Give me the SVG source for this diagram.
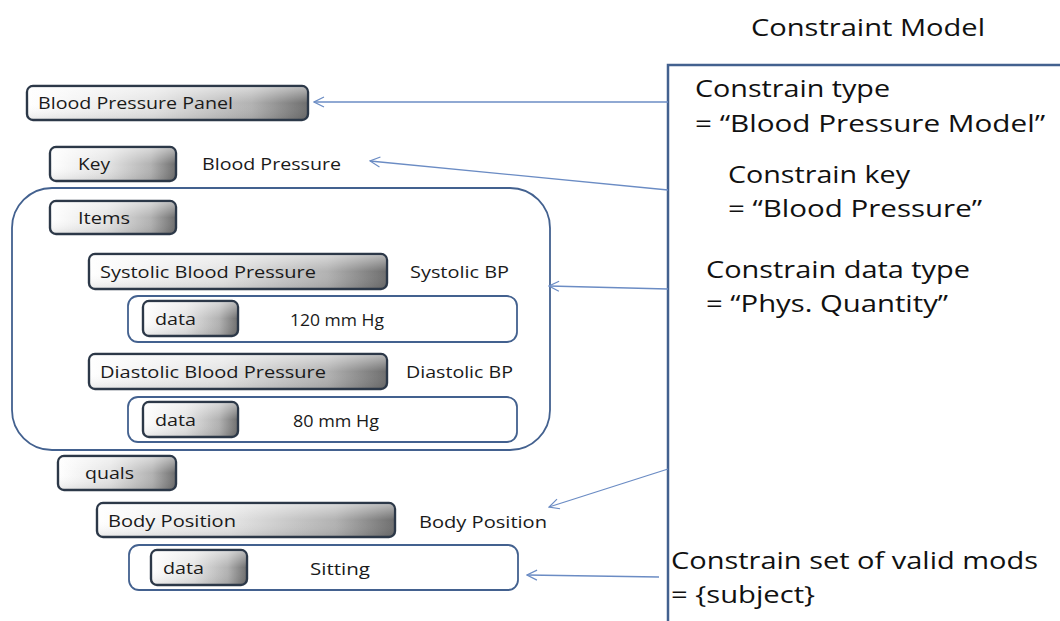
<svg xmlns="http://www.w3.org/2000/svg" width="1060" height="621" viewBox="0 0 1060 621">
<defs>
<linearGradient id="btn" x1="0" y1="0" x2="1" y2="0">
<stop offset="0" stop-color="#ffffff"/>
<stop offset="0.45" stop-color="#e4e4e4"/>
<stop offset="0.8" stop-color="#b2b2b2"/>
<stop offset="1" stop-color="#6e6e6e"/>
</linearGradient>
<linearGradient id="shine" x1="0" y1="0" x2="0" y2="1">
<stop offset="0" stop-color="#ffffff" stop-opacity="0.5"/>
<stop offset="0.5" stop-color="#ffffff" stop-opacity="0"/>
<stop offset="1" stop-color="#000000" stop-opacity="0.08"/>
</linearGradient>
<marker id="ah" viewBox="0 0 12 12" refX="11" refY="6" markerWidth="12" markerHeight="12" markerUnits="userSpaceOnUse" orient="auto">
<path d="M1,1 L11,6 L1,11" fill="none" stroke="#6b8cc4" stroke-width="1.2"/>
</marker>
</defs>
<style>
.btn{fill:url(#btn);stroke:#2c3848;stroke-width:2.4}
.sh{fill:url(#shine);stroke:none}
.box{fill:none;stroke:#43618f;stroke-width:1.8}
.lbl{font-family:"Open Sans","Liberation Sans",sans-serif;font-size:16px;fill:#1a1a1a}
.big{font-family:"Open Sans","Liberation Sans",sans-serif;font-size:23px;fill:#111}
.con{fill:none;stroke:#6b8cc4;stroke-width:1.3;marker-end:url(#ah)}
</style>
<rect width="1060" height="621" fill="#ffffff"/>

<text class="big" x="751" y="36" font-size="21" textLength="234" lengthAdjust="spacingAndGlyphs">Constraint Model</text>

<g id="constraint-model">
<path d="M668,621 L668,65 L1060,65" fill="none" stroke="#43618f" stroke-width="2.5"/>
<text class="big" x="695" y="97" textLength="195" lengthAdjust="spacingAndGlyphs">Constrain type</text>
<text class="big" x="695" y="132" textLength="350" lengthAdjust="spacingAndGlyphs">= “Blood Pressure Model”</text>
<text class="big" x="728" y="183" textLength="182" lengthAdjust="spacingAndGlyphs">Constrain key</text>
<text class="big" x="728" y="217" textLength="254" lengthAdjust="spacingAndGlyphs">= “Blood Pressure”</text>
<text class="big" x="706" y="278" textLength="264" lengthAdjust="spacingAndGlyphs">Constrain data type</text>
<text class="big" x="706" y="312" textLength="242" lengthAdjust="spacingAndGlyphs">= “Phys. Quantity”</text>
<text class="big" x="671" y="569" textLength="367" lengthAdjust="spacingAndGlyphs">Constrain set of valid mods</text>
<text class="big" x="671" y="603" textLength="144" lengthAdjust="spacingAndGlyphs">= {subject}</text>
</g>

<g id="panel">
<rect class="btn" x="27" y="86" width="281" height="34" rx="6"/>
<rect class="sh" x="28" y="87" width="279" height="32" rx="5"/>
<text class="lbl" x="38" y="109" textLength="195" lengthAdjust="spacingAndGlyphs">Blood Pressure Panel</text>
</g>

<g id="key">
<rect class="btn" x="50" y="147" width="126" height="34" rx="6"/>
<rect class="sh" x="51" y="148" width="124" height="32" rx="5"/>
<text class="lbl" x="78" y="170" textLength="32" lengthAdjust="spacingAndGlyphs">Key</text>
<text class="lbl" x="202" y="170" textLength="139" lengthAdjust="spacingAndGlyphs">Blood Pressure</text>
</g>

<g id="items-container">
<rect class="box" x="12" y="188" width="538" height="262" rx="40"/>
</g>

<g id="items">
<rect class="btn" x="50" y="201" width="126" height="33" rx="6"/>
<rect class="sh" x="51" y="202" width="124" height="31" rx="5"/>
<text class="lbl" x="78" y="224" textLength="52" lengthAdjust="spacingAndGlyphs">Items</text>
</g>

<g id="systolic">
<rect class="btn" x="89" y="254" width="298" height="35" rx="6"/>
<rect class="sh" x="90" y="255" width="296" height="33" rx="5"/>
<text class="lbl" x="100" y="278" textLength="216" lengthAdjust="spacingAndGlyphs">Systolic Blood Pressure</text>
<text class="lbl" x="410" y="278" textLength="99" lengthAdjust="spacingAndGlyphs">Systolic BP</text>
</g>

<g id="systolic-data">
<rect class="box" x="128" y="296" width="389" height="46" rx="10"/>
<rect class="btn" x="143" y="301" width="95" height="35" rx="6"/>
<rect class="sh" x="144" y="302" width="93" height="33" rx="5"/>
<text class="lbl" x="155" y="325" textLength="41" lengthAdjust="spacingAndGlyphs">data</text>
<text class="lbl" x="290" y="326" textLength="94" lengthAdjust="spacingAndGlyphs">120 mm Hg</text>
</g>

<g id="diastolic">
<rect class="btn" x="89" y="354" width="298" height="35" rx="6"/>
<rect class="sh" x="90" y="355" width="296" height="33" rx="5"/>
<text class="lbl" x="100" y="378" textLength="226" lengthAdjust="spacingAndGlyphs">Diastolic Blood Pressure</text>
<text class="lbl" x="406" y="378" textLength="107" lengthAdjust="spacingAndGlyphs">Diastolic BP</text>
</g>

<g id="diastolic-data">
<rect class="box" x="128" y="397" width="389" height="45" rx="10"/>
<rect class="btn" x="143" y="402" width="95" height="35" rx="6"/>
<rect class="sh" x="144" y="403" width="93" height="33" rx="5"/>
<text class="lbl" x="155" y="426" textLength="41" lengthAdjust="spacingAndGlyphs">data</text>
<text class="lbl" x="293" y="427" textLength="86" lengthAdjust="spacingAndGlyphs">80 mm Hg</text>
</g>

<g id="quals">
<rect class="btn" x="58" y="456" width="118" height="34" rx="6"/>
<rect class="sh" x="59" y="457" width="116" height="32" rx="5"/>
<text class="lbl" x="85" y="479" textLength="49" lengthAdjust="spacingAndGlyphs">quals</text>
</g>

<g id="body-position">
<rect class="btn" x="97" y="503" width="298" height="34" rx="6"/>
<rect class="sh" x="98" y="504" width="296" height="32" rx="5"/>
<text class="lbl" x="108" y="527" textLength="128" lengthAdjust="spacingAndGlyphs">Body Position</text>
<text class="lbl" x="419" y="528" textLength="128" lengthAdjust="spacingAndGlyphs">Body Position</text>
</g>

<g id="body-position-data">
<rect class="box" x="129" y="545" width="389" height="45" rx="10"/>
<rect class="btn" x="151" y="550" width="96" height="35" rx="6"/>
<rect class="sh" x="152" y="551" width="94" height="33" rx="5"/>
<text class="lbl" x="163" y="574" textLength="41" lengthAdjust="spacingAndGlyphs">data</text>
<text class="lbl" x="310" y="575" textLength="60" lengthAdjust="spacingAndGlyphs">Sitting</text>
</g>

<g id="connectors">
<line class="con" x1="668" y1="102" x2="314" y2="102"/>
<line class="con" x1="668" y1="190" x2="370" y2="161"/>
<line class="con" x1="668" y1="289" x2="549" y2="286"/>
<line class="con" x1="668" y1="469" x2="549" y2="507"/>
<line class="con" x1="659" y1="577" x2="527" y2="575"/>
</g>
</svg>
